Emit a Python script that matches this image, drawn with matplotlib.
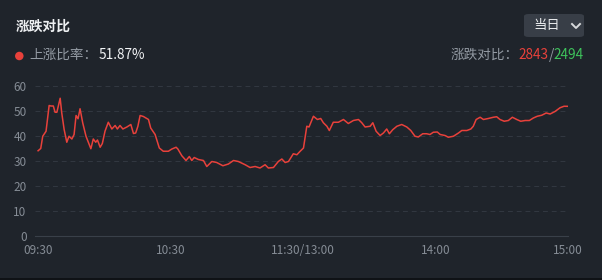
import numpy as np
import matplotlib
matplotlib.use('Agg')
import matplotlib.pyplot as plt
from matplotlib.patches import FancyBboxPatch, Ellipse

plt.rcParams['font.family'] = ['Noto Sans CJK SC', 'DejaVu Sans']

# datos: minutos de sesión desde las 09:30 y porcentaje de subida
minutes = [0, 1.2, 2.1, 3.6, 5, 5.8, 6.9, 7.7, 8.5, 10, 10.7, 11.8, 13, 14, 15.3,
           16.3, 17.2, 18.1, 19, 20.2, 21.7, 23.9, 25, 26.1, 26.9, 28.1, 29.1,
           30.3, 31.8, 33.4, 34.9, 35.9, 37.1, 38.4, 40.2, 42, 43.2, 44.2, 45.2,
           46.2, 47.7, 50, 51, 53, 54.9, 56.7, 59, 60.6, 62.5, 63.3, 65.1, 67,
           68.5, 69.6, 70.7, 72.6, 74.9, 76.4, 78.7, 80.9, 83.7, 86.2, 88.5,
           90.7, 93.8, 96, 98.3, 100.5, 102.8, 104.3, 106.6, 108.8, 110.4,
           111.9, 113.4, 115.6, 117.2, 118.7, 120.2, 121.7, 122.7, 124.7, 126.5,
           128, 129.2, 130.8, 131.9, 133.7, 136, 138.3, 140.5, 142.8, 145.1,
           146.6, 148.1, 150.4, 151.6, 153.1, 154.9, 156.4, 157.9, 159.1, 160.6,
           162.5, 164.7, 167, 168.8, 170.7, 172.2, 174.2, 176, 177.5, 179,
           180.8, 182.1, 184.3, 185.8, 188.1, 190.4, 191.9, 194.2, 196, 197.1,
           198.4, 200.2, 201.7, 203.9, 206.2, 207.7, 209.2, 211.1, 213, 214.8,
           216.8, 218.6, 220.6, 222.5, 224.3, 226.1, 228.1, 230.1, 231.9, 234.1,
           236.4, 238.2, 240]
ratio = [34.1, 35.0, 39.9, 41.9, 52.2, 52.0, 52.0, 49.5, 49.5, 55.1, 49.3, 42.6,
         37.5, 39.9, 38.8, 40.6, 48.2, 46.9, 50.9, 45.3, 39.9, 34.9, 38.8, 37.5,
         38.4, 35.5, 37.0, 41.9, 45.5, 42.8, 44.2, 42.8, 44.2, 42.8, 43.6, 44.6,
         41.0, 41.2, 43.9, 48.2, 47.8, 46.6, 43.2, 40.6, 35.2, 33.9, 33.9, 34.8,
         35.5, 34.8, 32.1, 30.2, 31.8, 30.2, 31.4, 30.6, 30.2, 27.8, 29.8, 29.4,
         28.1, 28.8, 30.2, 29.8, 28.5, 27.4, 27.8, 27.2, 28.5, 27.2, 27.4, 29.8,
         30.8, 29.4, 29.8, 32.9, 32.5, 33.9, 35.2, 43.9, 43.6, 47.9, 46.6, 47.0,
         45.3, 43.9, 42.2, 45.5, 45.5, 46.6, 45.0, 46.2, 46.6, 45.3, 43.6, 43.9,
         45.3, 41.9, 40.2, 41.2, 42.8, 40.9, 42.5, 43.9, 44.6, 43.6, 42.2, 39.9,
         39.6, 40.9, 40.9, 40.6, 41.5, 41.6, 40.6, 40.2, 39.5, 39.9, 41.2, 42.2,
         42.2, 42.8, 43.9, 46.6, 47.5, 46.6, 47.0, 47.5, 47.7, 46.6, 45.9, 46.2,
         47.5, 46.6, 45.9, 46.2, 46.2, 47.2, 47.9, 48.3, 49.2, 48.8, 49.8, 51.3,
         51.9, 51.87]

tick_pos = [0, 60, 120, 180, 240]
tick_labels = ['09:30', '10:30', '11:30/13:00', '14:00', '15:00']
y_ticks = [0, 10, 20, 30, 40, 50, 60]

up_rate = '51.87%'
up_count = '2843'
down_count = '2494'

bg = '#1f242b'
red = '#e8413b'
green = '#3ec45c'
gray = '#939aa3'

W, H = 602, 280
fig = plt.figure(figsize=(W / 100, H / 100), dpi=100, facecolor=bg)

# franja oscura inferior
fig.patches.append(plt.Rectangle((0, 0), 1, 2.5 / H, transform=fig.transFigure,
                                 facecolor='#0f1216', edgecolor='none'))

ax = fig.add_axes([35 / W, 44 / H, 533 / W, 150 / H])
ax.set_facecolor(bg)
ax.plot(minutes, ratio, color=red, lw=1.1, solid_joinstyle='round')
ax.set_xlim(-1.4, 240)
ax.set_ylim(0, 60)
ax.set_yticks(y_ticks)
ax.set_xticks(tick_pos)
ax.set_xticklabels(tick_labels)
for s in ['top', 'right', 'left']:
    ax.spines[s].set_visible(False)
ax.spines['bottom'].set_color('#394049')
ax.spines['bottom'].set_linewidth(0.8)
ax.grid(axis='y', color='#323841', linestyle=(0, (5, 4)), linewidth=0.7)
ax.grid(axis='x', visible=False)
ax.tick_params(length=0, colors='#858c95', labelsize=8.5)
ax.tick_params(axis='y', pad=6)
ax.tick_params(axis='x', pad=6)

# cabecera
fig.text(16 / W, 1 - 27 / H, '涨跌对比', color='#eef0f2', fontsize=9.9,
         fontweight='bold', va='center', ha='left')
fig.patches.append(Ellipse((19.3 / W, 1 - 56 / H), 8.5 / W, 8.5 / H, transform=fig.transFigure,
                           facecolor=red, edgecolor='none'))
fig.text(29 / W, 1 - 55 / H, '上涨比率：', color=gray, fontsize=9.8, va='center', ha='left')
fig.text(99 / W, 1 - 55 / H, up_rate, color='#f2f4f6', fontsize=9.8, va='center', ha='left')

# selector desplegable
fig.patches.append(FancyBboxPatch((524 / W, 1 - 37 / H), 60 / W, 23 / H,
                                  boxstyle='round,pad=0,rounding_size=0.008',
                                  transform=fig.transFigure, facecolor='#383e47',
                                  edgecolor='none'))
fig.text(533 / W, 1 - 25.5 / H, '当日', color='#e6e8ea', fontsize=9.6, va='center', ha='left')
fig.lines.append(plt.Line2D([572 / W, 576 / W, 580 / W], [1 - 24 / H, 1 - 28 / H, 1 - 24 / H],
                            transform=fig.transFigure, color='#d8dadd', lw=1.4))

# texto derecho multicolor, alineado a la derecha
fig.canvas.draw()
r = fig.canvas.get_renderer()
x = 584
parts = [(down_count, green), ('/', gray), (up_count, red), ('涨跌对比：', gray)]
for txt, col in parts:
    t = fig.text(x / W, 1 - 55 / H, txt, color=col, fontsize=9.8, va='center', ha='right')
    x -= t.get_window_extent(renderer=r).width

fig.savefig('out.png', dpi=100, facecolor=bg)
